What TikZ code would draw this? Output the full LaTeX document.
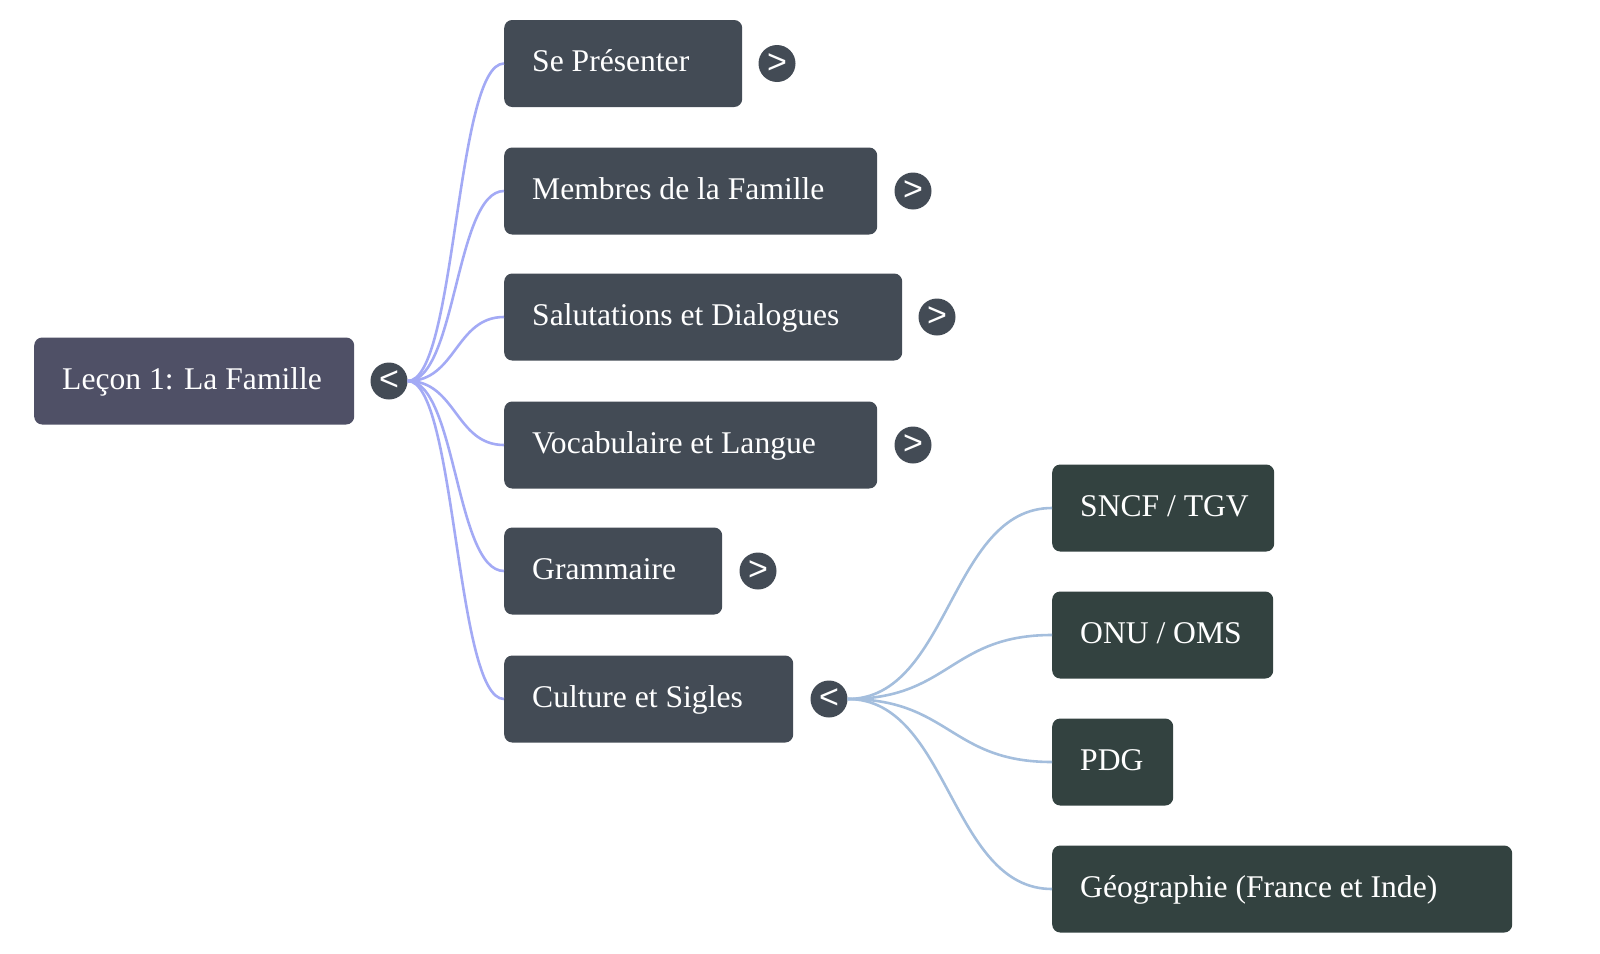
\documentclass[tikz,border=0pt]{standalone}
\usepackage{fontspec}
\setmainfont{Liberation Serif}
\newfontfamily\arrowfont{Liberation Sans}
\usetikzlibrary{calc}
\definecolor{rootfill}{HTML}{4F5066}
\definecolor{childfill}{HTML}{434B55}
\definecolor{grandfill}{HTML}{334240}
\definecolor{edgeA}{HTML}{A3AAF5}
\definecolor{edgeB}{HTML}{A4BEDD}
\newcommand{\lbl}[2]{\makebox[#1][l]{#2}}
\tikzset{
  boxnode/.style={rounded corners=8pt, text=white, inner xsep=28pt, inner ysep=0pt,
    minimum height=87pt, anchor=west, text height=22pt, text depth=6pt,
    font=\fontsize{31.6}{38}\selectfont},
  rootbox/.style={boxnode, fill=rootfill},
  childbox/.style={boxnode, fill=childfill},
  grandbox/.style={boxnode, fill=grandfill},
  toggle/.style={circle, fill=childfill, minimum size=37pt, inner sep=0pt, text=white,
    font=\arrowfont\fontsize{34}{34}\selectfont},
  edgeone/.style={draw=edgeA, line width=2.6pt},
  edgetwo/.style={draw=edgeB, line width=2.6pt},
}
\begin{document}
\begin{tikzpicture}[x=1pt,y=-1pt]
\useasboundingbox (0,0) rectangle (1600,953);
% root
\node[rootbox] (root) at (34,381) {\lbl{264pt}{Leçon 1: La Famille}};
\node[toggle] (rootc) at (389,381) {<};
% children
\node[childbox] (c1) at (504,63.5) {\lbl{182pt}{Se Présenter}};
\node[childbox] (c2) at (504,191) {\lbl{317pt}{Membres de la Famille}};
\node[childbox] (c3) at (504,317) {\lbl{342pt}{Salutations et Dialogues}};
\node[childbox] (c4) at (504,445) {\lbl{317pt}{Vocabulaire et Langue}};
\node[childbox] (c5) at (504,571) {\lbl{162pt}{Grammaire}};
\node[childbox] (c6) at (504,699) {\lbl{233pt}{Culture et Sigles}};
\node[toggle] (t1) at (777,63.5) {>};
\node[toggle] (t2) at (913,191) {>};
\node[toggle] (t3) at (937,317) {>};
\node[toggle] (t4) at (913,445) {>};
\node[toggle] (t5) at (758,571) {>};
\node[toggle] (t6) at (829,699) {<};
% grandchildren
\node[grandbox] (g1) at (1052,508) {\lbl{166pt}{SNCF / TGV}};
\node[grandbox] (g2) at (1052,635) {\lbl{165pt}{ONU / OMS}};
\node[grandbox] (g3) at (1052,762) {\lbl{65pt}{PDG}};
\node[grandbox] (g4) at (1052,889) {\lbl{404pt}{Géographie (France et Inde)}};
% edges
\foreach \c in {c1,c2,c3,c4,c5,c6}{
  \path[edgeone] (rootc.east) .. controls ([xshift=48.5pt]rootc.east) and ([xshift=-48.5pt]\c.west) .. (\c.west);
}
\foreach \g in {g1,g2,g3,g4}{
  \path[edgetwo] (t6.east) .. controls ([xshift=102pt]t6.east) and ([xshift=-102pt]\g.west) .. (\g.west);
}
\end{tikzpicture}
\end{document}
